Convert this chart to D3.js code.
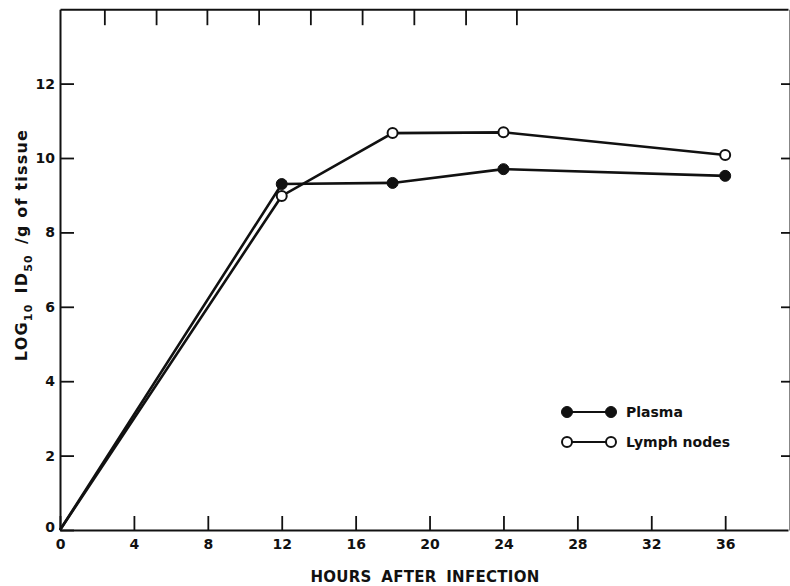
<!DOCTYPE html>
<html>
<head>
<meta charset="utf-8">
<script src="https://cdn.jsdelivr.net/npm/d3@7"></script>
<style>
  body { margin: 0; background: #fff; }
  svg text { font-family: "DejaVu Sans", sans-serif; font-weight: bold; fill: #111; }
</style>
</head>
<body>
<div id="chart"></div>
<script>
// Virus titre after infection

// Data
let hours = [0, 12, 18, 24, 36]
let plasma = [0, 9.3, 9.33, 9.7, 9.52]
let lymphNodes = [0, 8.98, 10.67, 10.69, 10.08]

let xTicks = [0, 4, 8, 12, 16, 20, 24, 28, 32, 36]
let yTicks = [0, 2, 4, 6, 8, 10, 12]
let topTicks = [2.4, 5.2, 7.95, 10.75, 13.55, 16.35, 19.15, 21.95, 24.7]

let series = [
  { name: 'Plasma', values: plasma, filled: true },
  { name: 'Lymph nodes', values: lymphNodes, filled: false },
]

// Basic variables
var chart = {
  width: 790,
  height: 586,
}

chart.x = d3.scaleLinear().domain([0, 39.4]).range([60, 788])
chart.y = d3.scaleLinear().domain([0, 14]).range([530, 9.2])

chart.svg = d3.select('#chart')
  .append('svg')
    .attr('width', chart.width)
    .attr('height', chart.height)

// Axes
let bottomAxis = d3.axisBottom(chart.x)
  .tickValues(xTicks)
  .tickSizeInner(-14)
  .tickSizeOuter(0)
  .tickPadding(9)
  .tickFormat(d3.format('d'))

let leftAxis = d3.axisLeft(chart.y)
  .tickValues(yTicks)
  .tickSizeInner(-14)
  .tickSizeOuter(0)
  .tickPadding(5)
  .tickFormat(d3.format('d'))

let topAxis = d3.axisTop(chart.x)
  .tickValues(topTicks)
  .tickSizeInner(-16)
  .tickSizeOuter(0)
  .tickFormat('')

let rightAxis = d3.axisRight(chart.y)
  .tickValues(yTicks.slice(1))
  .tickSizeInner(-9)
  .tickSizeOuter(0)
  .tickFormat('')

function styleAxis(g) {
  g.select('.domain').attr('stroke', '#111').attr('stroke-width', 2)
  g.selectAll('.tick line').attr('stroke', '#111').attr('stroke-width', 1.8)
  g.selectAll('.tick text')
    .style('font-family', '"DejaVu Sans", sans-serif')
    .style('font-weight', 'bold')
    .style('font-size', '14px')
    .attr('fill', '#111')
}

chart.svg.append('g')
  .attr('transform', `translate(0, ${chart.y(0)})`)
  .call(bottomAxis)
  .call(styleAxis)

chart.svg.append('g')
  .attr('transform', `translate(${chart.x(0)}, 0)`)
  .call(leftAxis)
  .call(styleAxis)
  .selectAll('.tick text')
    .filter((d) => d === 0)
    .attr('dy', '0.1em')

chart.svg.append('g')
  .attr('transform', `translate(0, ${chart.y(14)})`)
  .call(topAxis)
  .call(styleAxis)

chart.svg.append('g')
  .attr('transform', `translate(${chart.width}, 0)`)
  .call(rightAxis)
  .call(styleAxis)

// Lines
let line = d3.line()
  .x((d, i) => chart.x(hours[i]))
  .y((d) => chart.y(d))

chart.svg.selectAll('path.series')
  .data(series)
  .enter()
  .append('path')
    .attr('class', 'series')
    .attr('d', (d) => line(d.values))
    .attr('fill', 'none')
    .attr('stroke', '#111')
    .attr('stroke-width', 2.6)

// Markers (skip the origin)
series.forEach((s) => {
  chart.svg.selectAll(null)
    .data(s.values.slice(1))
    .enter()
    .append('circle')
      .attr('cx', (d, i) => chart.x(hours[i + 1]))
      .attr('cy', (d) => chart.y(d))
      .attr('r', s.filled ? 5.5 : 5)
      .attr('fill', s.filled ? '#111' : '#fff')
      .attr('stroke', '#111')
      .attr('stroke-width', s.filled ? 1 : 2)
})

// Legend
let legend = chart.svg.append('g')
  .attr('transform', 'translate(567, 412)')

series.forEach((s, i) => {
  let g = legend.append('g').attr('transform', `translate(0, ${i * 30})`)
  g.append('line')
    .attr('x1', 0).attr('x2', 44)
    .attr('stroke', '#111').attr('stroke-width', 2.2)
  g.selectAll('circle')
    .data([0, 44])
    .enter()
    .append('circle')
      .attr('cx', (d) => d)
      .attr('r', s.filled ? 5.5 : 5)
      .attr('fill', s.filled ? '#111' : '#fff')
      .attr('stroke', '#111')
      .attr('stroke-width', s.filled ? 1 : 2)
  g.append('text')
    .attr('x', 59)
    .attr('dy', '0.36em')
    .style('font-size', '14px')
    .text(s.name)
})

// Axis titles
chart.svg.append('text')
  .attr('x', 425)
  .attr('y', 582)
  .attr('text-anchor', 'middle')
  .style('font-size', '15px')
  .style('letter-spacing', '0.3px')
  .style('word-spacing', '4px')
  .text('HOURS AFTER INFECTION')

let yLabel = chart.svg.append('text')
  .attr('transform', 'translate(27, 245) rotate(-90)')
  .attr('text-anchor', 'middle')
  .style('font-size', '16px')
  .style('letter-spacing', '1.2px')

yLabel.append('tspan').text('LOG')
yLabel.append('tspan').attr('dy', 5).style('font-size', '11px').text('10')
yLabel.append('tspan').attr('dy', -5).attr('dx', 10).text('ID')
yLabel.append('tspan').attr('dy', 5).style('font-size', '11px').text('50')
yLabel.append('tspan').attr('dy', -5).attr('dx', 10).text('/g of tissue')
</script>
</body>
</html>
